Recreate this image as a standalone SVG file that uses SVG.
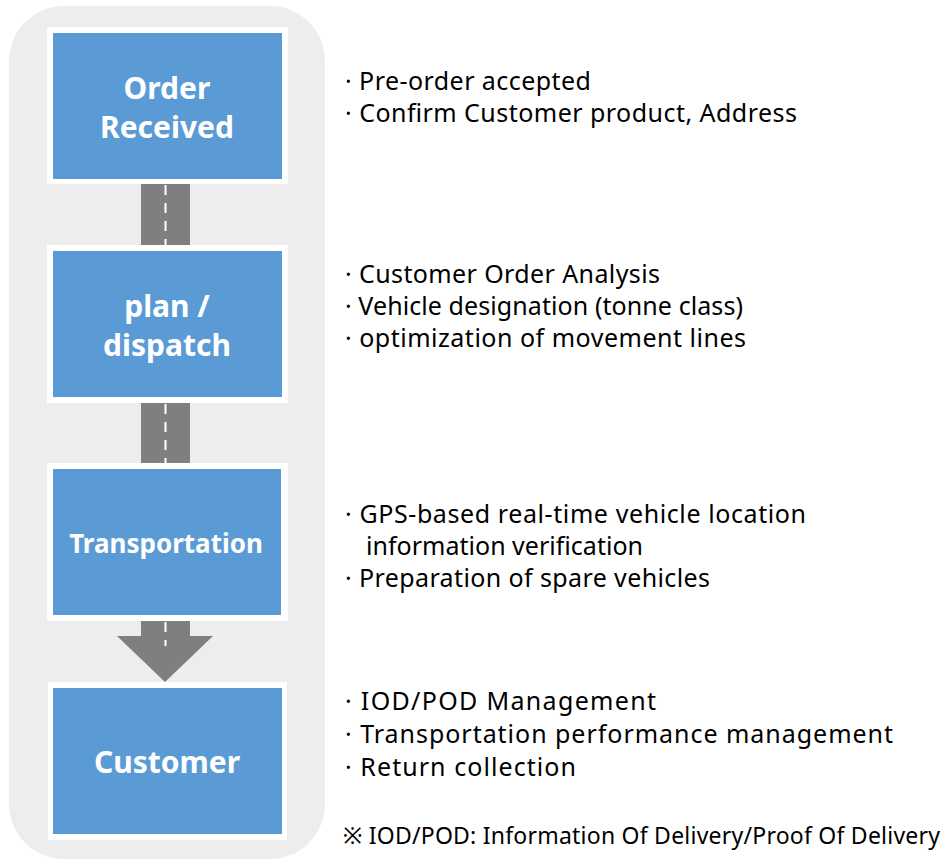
<svg xmlns="http://www.w3.org/2000/svg" width="946" height="861" viewBox="0 0 946 861">
<style>
.frame{fill:#ffffff}
.box{fill:#5b9bd5}
.lbl{font-family:"Noto Sans","Open Sans","DejaVu Sans",sans-serif;font-weight:bold;font-size:30px;fill:#ffffff;text-anchor:middle}
.road{fill:#7f7f7f}
.dash{stroke:#ffffff;stroke-width:2;stroke-dasharray:10 8}
.desc{font-family:"Noto Sans","Open Sans","DejaVu Sans",sans-serif;font-size:25px;fill:#000000}
.note{font-family:"Noto Sans","Open Sans","DejaVu Sans","Noto Sans CJK KR",sans-serif;font-size:23px;fill:#000000}
</style>
<rect x="9" y="6" width="316" height="853" rx="55" ry="55" fill="#ededed"/>
<g id="connectors">
<rect class="road" x="141" y="184" width="49" height="61"/>
<line class="dash" x1="165.5" y1="185" x2="165.5" y2="245"/>
<rect class="road" x="141" y="403" width="49" height="60"/>
<line class="dash" x1="165.5" y1="404" x2="165.5" y2="463"/>
<polygon class="road" points="141,621 190,621 190,636 213,636 165,682 117,636 141,636"/>
<line class="dash" x1="165.5" y1="622" x2="165.5" y2="646"/>
</g>
<g id="node-order">
<rect class="frame" x="47" y="27" width="241" height="157"/>
<rect class="box" x="53" y="33" width="229" height="146"/>
<text class="lbl" x="167" y="99">Order</text>
<text class="lbl" x="167" y="138">Received</text>
</g>
<g id="node-plan">
<rect class="frame" x="47" y="245" width="241" height="158"/>
<rect class="box" x="53" y="251" width="229" height="146"/>
<text class="lbl" x="167" y="317">plan /</text>
<text class="lbl" x="167" y="356">dispatch</text>
</g>
<g id="node-transport">
<rect class="frame" x="47" y="463" width="241" height="158"/>
<rect class="box" x="53" y="469" width="228" height="146"/>
<text class="lbl" x="166" y="553" style="font-size:26px">Transportation</text>
</g>
<g id="node-customer">
<rect class="frame" x="48" y="682" width="239" height="158"/>
<rect class="box" x="53" y="688" width="229" height="146"/>
<text class="lbl" x="167" y="773">Customer</text>
</g>
<g id="desc-order">
<text class="desc" x="345" y="90" textLength="246">· Pre-order accepted</text>
<text class="desc" x="345" y="122" textLength="452">· Confirm Customer product, Address</text>
</g>
<g id="desc-plan">
<text class="desc" x="345" y="283" textLength="315">· Customer Order Analysis</text>
<text class="desc" x="345" y="315" textLength="398">· Vehicle designation (tonne class)</text>
<text class="desc" x="345" y="347" textLength="401">· optimization of movement lines</text>
</g>
<g id="desc-transport">
<text class="desc" x="345" y="523" textLength="461">· GPS-based real-time vehicle location</text>
<text class="desc" x="366" y="555" textLength="277">information verification</text>
<text class="desc" x="345" y="587" textLength="365">· Preparation of spare vehicles</text>
</g>
<g id="desc-customer">
<text class="desc" x="345" y="710" textLength="311">· IOD/POD Management</text>
<text class="desc" x="345" y="743" textLength="548">· Transportation performance management</text>
<text class="desc" x="345" y="776" textLength="231">· Return collection</text>
</g>
<text class="note" x="343" y="844" textLength="597">※ IOD/POD: Information Of Delivery/Proof Of Delivery</text>
</svg>
